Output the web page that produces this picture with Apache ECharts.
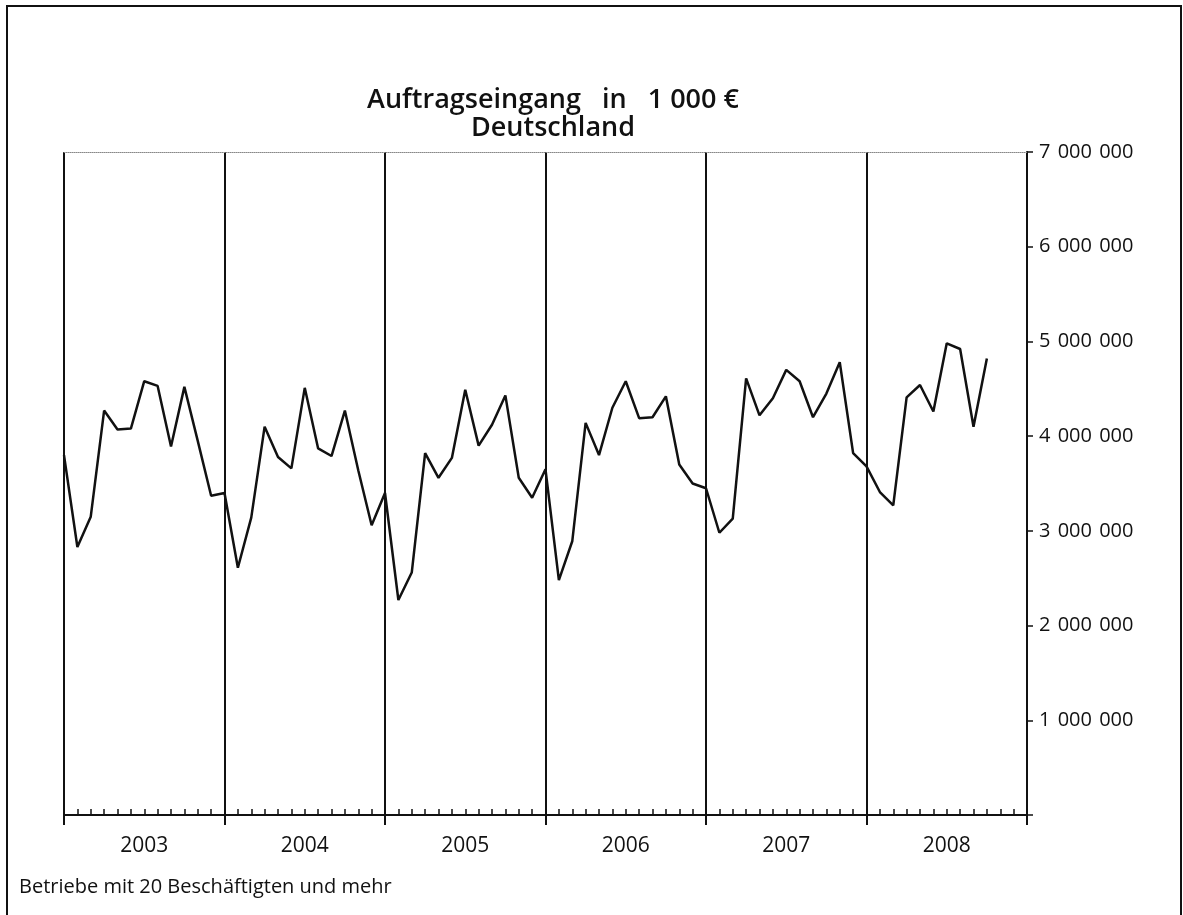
<!DOCTYPE html>
<html>
<head>
<meta charset="utf-8">
<title>Auftragseingang Deutschland</title>
<script src="https://cdn.jsdelivr.net/npm/echarts@6/dist/echarts.min.js"></script>
<style>
  html, body { margin: 0; padding: 0; background: #fff; }
  #main { width: 1183px; height: 915px; }
</style>
</head>
<body>
<div id="main"></div>
<script>
  // Auftragseingang in 1 000 €, monthly, Jan 2003 - Oct 2008
  var years = ['2003', '2004', '2005', '2006', '2007', '2008'];
  var orders = [
    3800000, 2830000, 3150000, 4270000, 4070000, 4080000, 4580000, 4530000, 3890000, 4520000, 3950000, 3370000,
    3400000, 2610000, 3140000, 4100000, 3780000, 3660000, 4510000, 3870000, 3790000, 4270000, 3640000, 3060000,
    3400000, 2270000, 2560000, 3820000, 3560000, 3770000, 4490000, 3900000, 4120000, 4430000, 3560000, 3350000,
    3650000, 2480000, 2890000, 4140000, 3800000, 4300000, 4580000, 4190000, 4200000, 4420000, 3700000, 3500000,
    3450000, 2980000, 3130000, 4610000, 4220000, 4400000, 4700000, 4580000, 4200000, 4450000, 4780000, 3820000,
    3680000, 3410000, 3270000, 4410000, 4540000, 4260000, 4980000, 4920000, 4100000, 4820000
  ];
  var yTicks = [0, 1000000, 2000000, 3000000, 4000000, 5000000, 6000000, 7000000];

  // month categories, plus the closing boundary (Jan of the following year)
  var months = [];
  years.forEach(function (y) {
    for (var m = 1; m <= 12; m++) {
      months.push(y + '-' + (m < 10 ? '0' + m : m));
    }
  });
  months.push((+years[years.length - 1] + 1) + '-01');

  var font = '"Open Sans", "Noto Sans", sans-serif';

  function fmt(v) {
    if (v === 0) return '';
    return String(v).replace(/\B(?=(\d{3})+(?!\d))/g, ' \u200A');
  }

  var chart = echarts.init(document.getElementById('main'));
  chart.setOption({
    animation: false,
    backgroundColor: '#fff',
    title: {
      text: 'Auftragseingang   in   1 000 €\nDeutschland',
      left: 548,
      top: 81,
      textAlign: 'center',
      textStyle: {
        fontFamily: font,
        fontSize: 27,
        fontWeight: 600,
        lineHeight: 28,
        color: '#111'
      }
    },
    graphic: [
      {
        type: 'rect',
        shape: { x: 7, y: 6, width: 1174, height: 940 },
        style: { fill: 'none', stroke: '#111', lineWidth: 2 },
        silent: true
      },
      {
        type: 'text',
        left: 19,
        top: 877,
        style: {
          text: 'Betriebe mit 20 Beschäftigten und mehr',
          font: '20px ' + font,
          fill: '#111'
        }
      }
    ],
    grid: {
      left: 64,
      right: 156,
      top: 152,
      bottom: 100
    },
    xAxis: [
      {
        type: 'category',
        data: months,
        position: 'bottom',
        boundaryGap: false,
        axisLine: { lineStyle: { color: '#111', width: 2 } },
        axisTick: { inside: true, interval: 0, length: 6, lineStyle: { color: '#111', width: 1.5 } },
        axisLabel: { show: false },
        splitLine: {
          show: true,
          interval: function (idx) { return idx % 12 === 0; },
          lineStyle: { color: '#111', width: 2 }
        }
      },
      {
        type: 'category',
        data: months,
        position: 'bottom',
        boundaryGap: false,
        axisLine: { show: false },
        axisTick: {
          interval: function (idx) { return idx % 12 === 0; },
          length: 10,
          lineStyle: { color: '#111', width: 2 }
        },
        axisLabel: {
          interval: function (idx) { return idx % 12 === 6; },
          formatter: function (v) { return v.slice(0, 4); },
          margin: 21,
          fontFamily: font,
          fontSize: 21,
          color: '#111'
        },
        splitLine: { show: false }
      },
      {
        type: 'category',
        data: months,
        position: 'top',
        boundaryGap: false,
        axisLine: { lineStyle: { color: '#888', width: 1, type: 'dotted' } },
        axisTick: { show: false },
        axisLabel: { show: false },
        splitLine: { show: false }
      }
    ],
    yAxis: {
      type: 'value',
      position: 'right',
      min: yTicks[0],
      max: yTicks[yTicks.length - 1],
      interval: yTicks[1] - yTicks[0],
      axisLine: { show: true, lineStyle: { color: '#111', width: 2 } },
      axisTick: { show: true, length: 6, lineStyle: { color: '#111', width: 1.5 } },
      axisLabel: {
        formatter: fmt,
        margin: 12,
        fontFamily: font,
        fontSize: 20,
        color: '#111'
      },
      splitLine: { show: false }
    },
    series: [
      {
        name: 'Auftragseingang',
        type: 'line',
        xAxisIndex: 0,
        data: orders,
        symbol: 'none',
        lineStyle: { color: '#111', width: 2.5 }
      }
    ]
  });
</script>
</body>
</html>
